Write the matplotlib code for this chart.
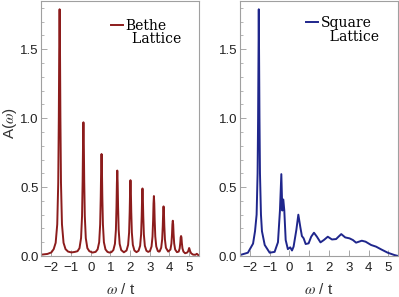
import matplotlib
matplotlib.use("Agg")
import matplotlib.pyplot as plt
from matplotlib.lines import Line2D
from matplotlib.ticker import MultipleLocator

# Bethe lattice spectral function
bethe_w = [-2.5, -2.2, -2.0, -1.88, -1.78, -1.70, -1.65, -1.62, -1.60, -1.58,
           -1.56, -1.54, -1.51, -1.46, -1.38, -1.28, -1.15, -0.975, -0.8,
           -0.67, -0.57, -0.49, -0.44, -0.41, -0.39, -0.37, -0.35, -0.33, -0.30, -0.25, -0.17, -0.07,
           0.09,
           0.25, 0.35, 0.43, 0.48, 0.51, 0.53, 0.55, 0.57, 0.59, 0.62, 0.67, 0.75, 0.85,
           0.95,
           1.05, 1.15, 1.23, 1.28, 1.31, 1.33, 1.35, 1.37, 1.39, 1.42, 1.47, 1.55,
           1.685,
           1.82, 1.90, 1.95, 1.98, 2.00, 2.02, 2.04, 2.06, 2.09, 2.14, 2.22,
           2.325,
           2.43, 2.51, 2.56, 2.59, 2.61, 2.63, 2.65, 2.67, 2.70, 2.75, 2.83,
           2.92,
           3.01, 3.09, 3.14, 3.17, 3.19, 3.21, 3.23, 3.25, 3.28, 3.33, 3.41,
           3.455,
           3.50, 3.58, 3.63, 3.66, 3.68, 3.70, 3.72, 3.74, 3.77, 3.82,
           3.935,
           4.05, 4.10, 4.13, 4.15, 4.17, 4.19, 4.21, 4.24, 4.29,
           4.38,
           4.47, 4.52, 4.55, 4.57, 4.59, 4.61, 4.63, 4.66, 4.71,
           4.795,
           4.90, 4.95, 4.98, 5.0, 5.02, 5.05, 5.1,
           5.2,
           5.32, 5.37, 5.39, 5.41, 5.46, 5.5]
bethe_A = [0.01, 0.015, 0.026, 0.05, 0.096, 0.23, 0.53, 1.01, 1.50, 1.79,
           1.50, 1.01, 0.53, 0.23, 0.096, 0.05, 0.032, 0.026, 0.03,
           0.035, 0.057, 0.13, 0.29, 0.55, 0.82, 0.97, 0.82, 0.55, 0.29, 0.13, 0.057, 0.035,
           0.025,
           0.03, 0.048, 0.10, 0.23, 0.43, 0.63, 0.74, 0.63, 0.43, 0.23, 0.10, 0.048, 0.03,
           0.025,
           0.028, 0.043, 0.088, 0.19, 0.36, 0.53, 0.62, 0.53, 0.36, 0.19, 0.088, 0.043,
           0.027,
           0.04, 0.081, 0.17, 0.32, 0.47, 0.55, 0.47, 0.32, 0.17, 0.081, 0.04,
           0.028,
           0.038, 0.074, 0.157, 0.29, 0.42, 0.49, 0.42, 0.29, 0.157, 0.074, 0.038,
           0.03,
           0.036, 0.069, 0.142, 0.26, 0.38, 0.435, 0.38, 0.26, 0.142, 0.069, 0.036,
           0.032,
           0.033, 0.06, 0.121, 0.217, 0.316, 0.36, 0.316, 0.217, 0.121, 0.06,
           0.032,
           0.047, 0.091, 0.159, 0.23, 0.256, 0.23, 0.159, 0.091, 0.047,
           0.028,
           0.032, 0.056, 0.095, 0.135, 0.145, 0.135, 0.095, 0.056, 0.032,
           0.02,
           0.025, 0.035, 0.05, 0.058, 0.05, 0.035, 0.02,
           0.01,
           0.009, 0.014, 0.016, 0.014, 0.007, 0.004]

# Square lattice spectral function
square_w = [-2.5, -2.1, -1.84, -1.74, -1.66, -1.61, -1.585, -1.565, -1.55, -1.535,
            -1.515, -1.49, -1.44, -1.39, -1.25, -1.0,
            -0.75, -0.58, -0.48, -0.41, -0.36, -0.31, -0.26, -0.19, -0.08, 0.04,
            0.13, 0.21, 0.35, 0.45, 0.55, 0.63, 0.72, 0.82, 0.97, 1.10,
            1.24, 1.39, 1.57, 1.74, 1.94, 2.15, 2.36, 2.48, 2.62, 2.82,
            3.04, 3.21, 3.37, 3.66, 3.85, 4.13, 4.38, 4.64, 4.97, 5.31, 5.5]
square_A = [0.007, 0.024, 0.09, 0.18, 0.3, 0.6, 1.0, 1.45, 1.79, 1.45,
            1.0, 0.6, 0.3, 0.18, 0.08, 0.024,
            0.03, 0.10, 0.33, 0.594, 0.33, 0.41, 0.33, 0.116, 0.05, 0.063,
            0.04, 0.068, 0.19, 0.30, 0.21, 0.145, 0.128, 0.087, 0.092, 0.14,
            0.169, 0.14, 0.099, 0.116, 0.14, 0.12, 0.123, 0.14, 0.159, 0.135,
            0.128, 0.116, 0.097, 0.111, 0.104, 0.08, 0.068, 0.048, 0.024, 0.007, 0.0]

xticks = [-2, -1, 0, 1, 2, 3, 4, 5]
yticks = [0.0, 0.5, 1.0, 1.5]

plt.rcParams['mathtext.fontset'] = 'stix'

fig = plt.figure(figsize=(3.99, 2.97), dpi=100)
ax1 = fig.add_axes([0.104, 0.138, 0.3947, 0.8586])
ax2 = fig.add_axes([0.6015, 0.138, 0.3965, 0.8586])

red = '#8c1c1c'
blue = '#1f268c'
l1, = ax1.plot(bethe_w, bethe_A, color=red, lw=1.4)
l2, = ax2.plot(square_w, square_A, color=blue, lw=1.4)

for ax, line, names, anchor in ((ax1, l1, ['Bethe', '\u2002Lattice'], (0.44, 0.93)),
                                (ax2, l2, ['Square', '  Lattice'], (0.42, 0.94))):
    ax.set_xlim(-2.5, 5.5)
    ax.set_ylim(0, 1.85)
    ax.set_xticks(xticks)
    ax.set_yticks(yticks)
    ax.set_yticklabels(['%.1f' % v for v in yticks])
    ax.set_xticklabels(['\u2212%d' % -v if v < 0 else '%d' % v for v in xticks])
    ax.yaxis.set_minor_locator(MultipleLocator(0.1))
    ax.tick_params(which='both', direction='in', colors='#999999',
                   labelcolor='#222222', labelsize=9.5)
    ax.tick_params(axis='y', pad=2)
    ax.tick_params(axis='x', pad=4)
    ax.tick_params(which='major', length=4, width=0.6)
    ax.tick_params(which='minor', length=2, width=0.5)
    for lab in ax.get_xticklabels() + ax.get_yticklabels():
        lab.set_family('Liberation Sans')
    for s in ax.spines.values():
        s.set_color('#a0a0a0')
        s.set_linewidth(0.8)
    ax.set_xlabel(r'$\omega$ / t', family='Liberation Sans', fontsize=11,
                  color='#333333', labelpad=6)
    blank = Line2D([], [], color='none')
    ax.legend([line, blank], names, loc='upper left', frameon=False,
              handlelength=0.85, handletextpad=0.2, labelspacing=-0.05,
              borderpad=0, borderaxespad=0, bbox_to_anchor=anchor,
              prop={'family': 'DejaVu Serif', 'size': 10})

ax1.set_ylabel(r'A($\omega$)', family='Liberation Sans', fontsize=11,
               color='#333333')
ax1.yaxis.set_label_coords(-0.14, 0.52)

fig.savefig('out.png', dpi=100)
